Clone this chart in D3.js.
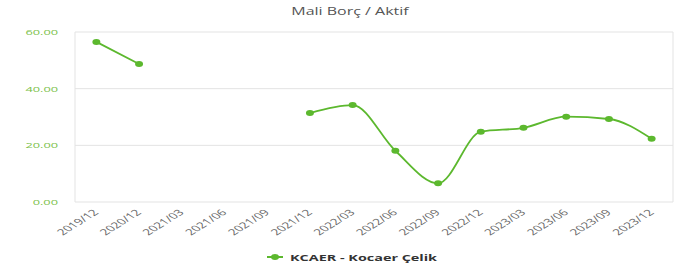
<!DOCTYPE html>
<html><head><meta charset="utf-8">
<script src="https://cdn.jsdelivr.net/npm/d3@7"></script>
<style>body{margin:0;background:#fff;font-family:"Open Sans","DejaVu Sans",sans-serif}</style>
</head><body><svg id="c" width="689" height="268"></svg>
<script>
const categories = ["2019/12","2020/12","2021/03","2021/06","2021/09","2021/12","2022/03","2022/06","2022/09","2022/12","2023/03","2023/06","2023/09","2023/12"];
const values = [56.5,48.7,null,null,null,31.4,34.2,18.1,6.6,24.8,26.2,30.1,29.3,22.3];
const yTicks = [0,20,40,60];
const title = "Mali Borç / Aktif";
const seriesName = "KCAER - Kocaer Çelik";

const svg = d3.select("#c");
const m = {l:75, r:673, t:32, b:202};
const sx = 1.6;
const x = d3.scaleBand().domain(categories).range([m.l, m.r]);
const y = d3.scaleLinear().domain([0,60]).range([m.b, m.t]);
const green = "#5cb82e";

svg.append("text").attr("transform",`translate(350,15) scale(${sx},1)`).attr("text-anchor","middle")
  .attr("font-size",10).attr("fill","#555").text(title);

// grid
svg.append("g").selectAll("line").data(yTicks).join("line")
  .attr("x1",m.l).attr("x2",m.r).attr("y1",d=>y(d)).attr("y2",d=>y(d))
  .attr("stroke","#e3e3e3").attr("stroke-width",1);
svg.append("line").attr("x1",m.l).attr("x2",m.l).attr("y1",m.t).attr("y2",m.b).attr("stroke","#e3e3e3");
svg.append("line").attr("x1",m.r).attr("x2",m.r).attr("y1",m.t).attr("y2",m.b).attr("stroke","#e3e3e3");

// y labels
svg.append("g").selectAll("text").data(yTicks).join("text")
  .attr("transform",d=>`translate(58,${y(d)+3}) scale(${sx},1)`).attr("text-anchor","end")
  .attr("font-size",8).attr("fill","#7cbf4a").text(d=>d3.format(".2f")(d));

// x labels
svg.append("g").selectAll("text").data(categories).join("text")
  .attr("transform",d=>`translate(${x(d)+x.bandwidth()/2+3},${m.b+11}) scale(${sx},1) rotate(-45)`)
  .attr("text-anchor","end").attr("font-size",8.5).attr("fill","#666").text(d=>d);

const pts = categories.map((c,i)=>({c, v: values[i]}));
const line = d3.line().defined(d=>d.v!==null)
  .x(d=>x(d.c)+x.bandwidth()/2).y(d=>y(d.v)).curve(d3.curveMonotoneX);
svg.append("path").datum(pts).attr("d",line).attr("fill","none")
  .attr("stroke",green).attr("stroke-width",1.8);
svg.append("g").selectAll("ellipse").data(pts.filter(d=>d.v!==null)).join("ellipse")
  .attr("cx",d=>x(d.c)+x.bandwidth()/2).attr("cy",d=>y(d.v)).attr("rx",4).attr("ry",3).attr("fill",green);

// legend
const lg = svg.append("g").attr("transform","translate(267,257)");
lg.append("line").attr("x1",0).attr("x2",16).attr("y1",0).attr("y2",0).attr("stroke",green).attr("stroke-width",2);
lg.append("ellipse").attr("cx",8).attr("cy",0).attr("rx",4).attr("ry",3).attr("fill",green);
lg.append("text").attr("transform",`translate(23,3.5) scale(${sx},1)`).attr("font-size",9).attr("font-weight","bold")
  .attr("fill","#333").text(seriesName);
</script></body></html>
